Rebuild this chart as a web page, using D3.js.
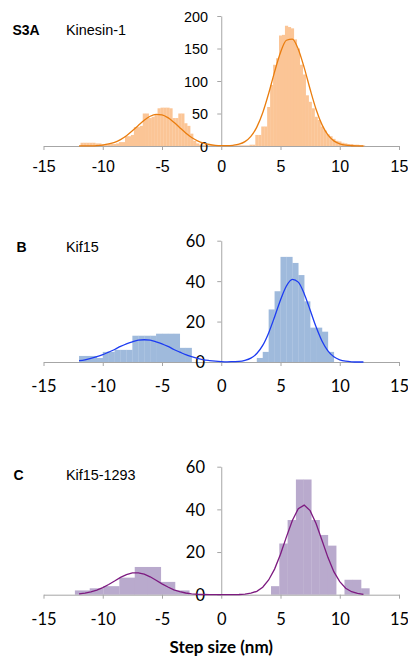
<!DOCTYPE html>
<html><head><meta charset="utf-8">
<script src="https://cdn.jsdelivr.net/npm/d3@7"></script>
<style>body{margin:0;background:#fff}svg{display:block}</style>
</head><body>
<svg id="chart" width="408" height="659"></svg>
<script>
// ---------- data ----------
const xTicks = [-15, -10, -5, 0, 5, 10, 15];
const fitX = [-12,-11.5,-11,-10.5,-10,-9.5,-9,-8.5,-8,-7.5,-7,-6.5,-6,-5.5,-5,-4.5,-4,-3.5,-3,-2.5,-2,-1.5,-1,-0.5,0,0.5,1,1.5,2,2.5,3,3.5,4,4.5,5,5.5,6,6.5,7,7.5,8,8.5,9,9.5,10,10.5,11,11.5,12];

// Panel A — Kinesin-1 (0.25 nm bins)
const aLetter = "S3A";
const aName = "Kinesin-1";
const aBinStart = -11.875;
const aBinWidth = 0.25;
const aCounts = [5,5,5,5,5,4,4,3,3,3,3,3,4,6,6,15,15,17,29,29,31,50,50,43,45,48,58,59,59,59,58,43,43,50,50,35,31,19,8,4,2,2,2,1,1,1,1,0,0,0,0,1,1,1,1,1,1,2,2,17,17,30,30,60,94,125,135,170,171,185,183,181,164,150,125,110,78,68,58,45,40,30,24,18,15,11,8,7,5,4,3,3,2,2,1,1];
const aFit = [0.04,0.1,0.3,0.7,1.5,3.1,5.7,9.9,15.8,23.3,31.6,39.6,45.8,48.8,48.0,43.6,36.5,28.2,20.1,13.2,8.0,4.5,2.3,1.1,0.6,0.5,1.1,2.7,6.7,14.8,29.1,51.2,80.8,114.0,144.0,162.7,164.5,148.9,120.5,87.3,56.6,32.9,17.1,7.9,3.3,1.2,0.4,0.1,0.0];
const aYTicks = [0, 50, 100, 150, 200];

// Panel B — Kif15 (0.5 nm bins)
const bLetter = "B";
const bName = "Kif15";
const bBinStart = -12;
const bBinWidth = 0.5;
const bCounts = [3,3,3,2,5,5,6,6,6,13,13,13,13,14,14,14,14,7,7,0,0,0,0,0,0,0,0,0,0,0,2,5,26,35,52,52,49,43,30,17,17,15,5];
const bFit = [0.7,1.1,1.8,2.6,3.6,4.9,6.2,7.7,9.0,10.0,10.8,11.0,10.8,10.0,9.0,7.7,6.2,4.9,3.6,2.6,1.8,1.1,0.7,0.4,0.2,0.1,0.2,0.3,0.8,1.9,4.2,8.2,14.4,22.3,30.7,37.6,40.9,39.5,33.8,25.7,17.4,10.4,5.5,2.6,1.1,0.4,0.1,0.0,0.0];
const bYTicks = [0, 20, 40, 60];

// Panel C — Kif15-1293 (irregular bins)
const cLetter = "C";
const cName = "Kif15-1293";
const cEdges = [-12.35,-11.1,-9.95,-8.6,-7.3,-6.2,-5.1,-3.9,-2.7,4.2,4.9,5.6,6.3,6.95,7.6,8.3,9.0,9.7,10.4,11.1,11.8,12.5];
const cCounts = [2,3,4,8,13,13,6,2,0,4,24,35,54,54,35,28,23,0,7,7,3];
const cFit = [0.4,0.7,1.3,2.1,3.3,4.8,6.4,8.1,9.4,10.2,10.2,9.6,8.4,6.8,5.1,3.6,2.3,1.4,0.8,0.4,0.2,0.1,0,0,0,0,0,0.1,0.3,0.7,1.6,3.5,6.9,12.0,19.0,27.1,34.8,40.3,42.0,39.4,33.4,25.5,17.5,10.8,6.1,3.0,1.4,0.6,0.2];
const cYTicks = [0, 20, 40, 60];

const xTitle = "Step size (nm)";

// ---------- helpers ----------
function uniformBins(start, width, counts) {
  return counts.map((c, i) => ({x0: start + i * width, x1: start + (i + 1) * width, c}));
}
function edgeBins(edges, counts) {
  return counts.map((c, i) => ({x0: edges[i], x1: edges[i + 1], c}));
}

const svg = d3.select("#chart");
const x = d3.scaleLinear().domain([-15, 15]).range([43.5, 399]);
const axisColor = "#a6a6a6";

const panels = [
  {letter: aLetter, name: aName, bins: uniformBins(aBinStart, aBinWidth, aCounts), fit: aFit,
   yTicks: aYTicks, yMax: 200, y0: 146, yTop: 16, barColor: "#fbc596", lineColor: "#ea7d0e",
   tickFont: "'Liberation Sans', Arial, sans-serif", yFontSize: 14.4, xFontSize: 16, xLabelDy: 25.5,
   yLabelRight: 208, titleY: 35, letterX: 12.5, curve: d3.curveMonotoneX},
  {letter: bLetter, name: bName, bins: uniformBins(bBinStart, bBinWidth, bCounts), fit: bFit,
   yTicks: bYTicks, yMax: 60, y0: 362, yTop: 240.7, barColor: "#9fbadc", lineColor: "#1d3cf2",
   tickFont: "Lato, 'Open Sans', sans-serif", yFontSize: 16.5, xFontSize: 16.5, xLabelDy: 29.5,
   yLabelRight: 205, titleY: 252, letterX: 16.5, curve: d3.curveMonotoneX},
  {letter: cLetter, name: cName, bins: edgeBins(cEdges, cCounts), fit: cFit,
   yTicks: cYTicks, yMax: 60, y0: 594.7, yTop: 466.7, barColor: "#b9aacd", lineColor: "#7d1a80",
   tickFont: "Lato, 'Open Sans', sans-serif", yFontSize: 16.5, xFontSize: 16.5, xLabelDy: 30,
   yLabelRight: 205, titleY: 480, letterX: 13.5, curve: d3.curveLinear}
];

panels.forEach(p => {
  const y = d3.scaleLinear().domain([0, p.yMax]).range([p.y0, p.yTop]);
  const g = svg.append("g");

  // bars
  g.append("g").selectAll("rect")
    .data(p.bins.filter(b => b.c > 0))
    .join("rect")
    .attr("x", d => x(d.x0))
    .attr("width", d => x(d.x1) - x(d.x0) + 0.25)
    .attr("y", d => y(d.c))
    .attr("height", d => p.y0 - y(d.c))
    .attr("fill", p.barColor);

  // x axis
  const xa = g.append("g")
    .attr("transform", `translate(0,${p.y0})`)
    .call(d3.axisBottom(x).tickValues(xTicks).tickSize(4).tickSizeOuter(0).tickFormat(d3.format("d")));
  xa.select(".domain").attr("stroke", axisColor).attr("stroke-width", 1);
  xa.selectAll(".tick line").attr("stroke", axisColor);
  xa.selectAll(".tick text")
    .attr("y", p.xLabelDy).attr("dy", 0)
    .attr("fill", "#000")
    .style("font-family", p.tickFont).style("font-size", p.xFontSize + "px")
    .text(d => d < 0 ? "-" + Math.abs(d) : d);

  // y axis
  const ya = g.append("g")
    .attr("transform", `translate(${x(0)},0)`)
    .call(d3.axisLeft(y).tickValues(p.yTicks).tickSize(4).tickSizeOuter(0));
  ya.select(".domain").attr("stroke", axisColor);
  ya.selectAll(".tick line").attr("stroke", axisColor);
  ya.selectAll(".tick text")
    .attr("x", p.yLabelRight - x(0)).attr("dy", "0.36em")
    .attr("fill", "#000")
    .style("font-family", p.tickFont).style("font-size", p.yFontSize + "px");

  // fitted curve
  g.append("path")
    .datum(fitX.map((v, i) => [v, p.fit[i]]))
    .attr("fill", "none")
    .attr("stroke", p.lineColor)
    .attr("stroke-width", 1.3)
    .attr("d", d3.line().x(d => x(d[0])).y(d => y(d[1])).curve(p.curve));

  // titles
  g.append("text").attr("x", p.letterX).attr("y", p.titleY)
    .style("font-family", "'Liberation Sans', Arial, sans-serif").style("font-size", "14px").style("font-weight", "bold")
    .text(p.letter);
  g.append("text").attr("x", 66).attr("y", p.titleY)
    .style("font-family", "'Liberation Sans', Arial, sans-serif").style("font-size", "14.4px")
    .text(p.name);
});

svg.append("text")
  .attr("x", x(0)).attr("y", 653)
  .attr("text-anchor", "middle")
  .style("font-family", "Lato, 'Open Sans', sans-serif").style("font-size", "17px").style("font-weight", "bold")
  .text(xTitle);
</script>
</body></html>
